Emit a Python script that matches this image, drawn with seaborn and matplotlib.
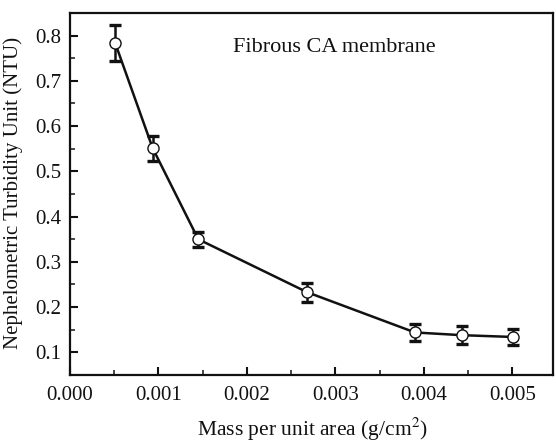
import matplotlib
matplotlib.use("Agg")
import matplotlib.pyplot as plt
import seaborn as sns
import pandas as pd
from matplotlib.ticker import MultipleLocator

mass = [0.00051, 0.000935, 0.00145, 0.00268, 0.00390, 0.00443, 0.00501]
ntu = [0.784, 0.551, 0.350, 0.233, 0.144, 0.138, 0.134]
err = [0.040, 0.027, 0.017, 0.021, 0.018, 0.020, 0.018]
xticks = [0.000, 0.001, 0.002, 0.003, 0.004, 0.005]
yticks = [0.1, 0.2, 0.3, 0.4, 0.5, 0.6, 0.7, 0.8]

df = pd.DataFrame({"mass": mass, "ntu": ntu, "err": err})

sns.set_style("ticks")
plt.rcParams['font.family'] = ['Liberation Serif', 'DejaVu Serif']
plt.rcParams['mathtext.fontset'] = 'stix'

fig = plt.figure(figsize=(5.56, 4.42), dpi=100)
ax = fig.add_axes([0.1259, 0.1516, 0.8687, 0.819])

sns.lineplot(data=df, x="mass", y="ntu", ax=ax, color="#111111", linewidth=1.8,
             zorder=2)
ax.errorbar(df["mass"], df["ntu"], yerr=df["err"], fmt='none', ecolor="#111111",
            elinewidth=1.8, capsize=4, capthick=2.4, zorder=3)
ax.plot(df["mass"], df["ntu"], linestyle='none', marker='o', markersize=8,
        markerfacecolor='white', markeredgecolor='#111111', markeredgewidth=1.0,
        zorder=4)

ax.set_xlim(0, 0.00546)
ax.set_ylim(0.05, 0.85)
ax.set_xticks(xticks)
ax.set_xticklabels([f"{v:.3f}" for v in xticks])
ax.set_yticks(yticks)
ax.set_yticklabels([f"{v:.1f}" for v in yticks])
ax.xaxis.set_minor_locator(MultipleLocator(0.0005))
ax.yaxis.set_minor_locator(MultipleLocator(0.05))
ax.tick_params(which='major', direction='in', length=6, width=1.5, labelsize=15,
               colors='#111111', pad=6)
ax.tick_params(axis='x', which='major', pad=8)
ax.tick_params(which='minor', direction='in', length=3.5, width=1.2)
for s in ax.spines.values():
    s.set_linewidth(1.6)
    s.set_color('#111111')

ax.set_xlabel("Mass per unit area (g/cm$^2$)", fontsize=15.5, color='#111111')
ax.set_ylabel("Nephelometric Turbidity Unit (NTU)", fontsize=15, color='#111111')
ax.xaxis.set_label_coords(0.502, -0.113)
ax.yaxis.set_label_coords(-0.097, 0.504)
ax.text(0.00299, 0.773, "Fibrous CA membrane", fontsize=16, ha='center', va='center',
        color='#111111')

fig.savefig("out.png", dpi=100)
